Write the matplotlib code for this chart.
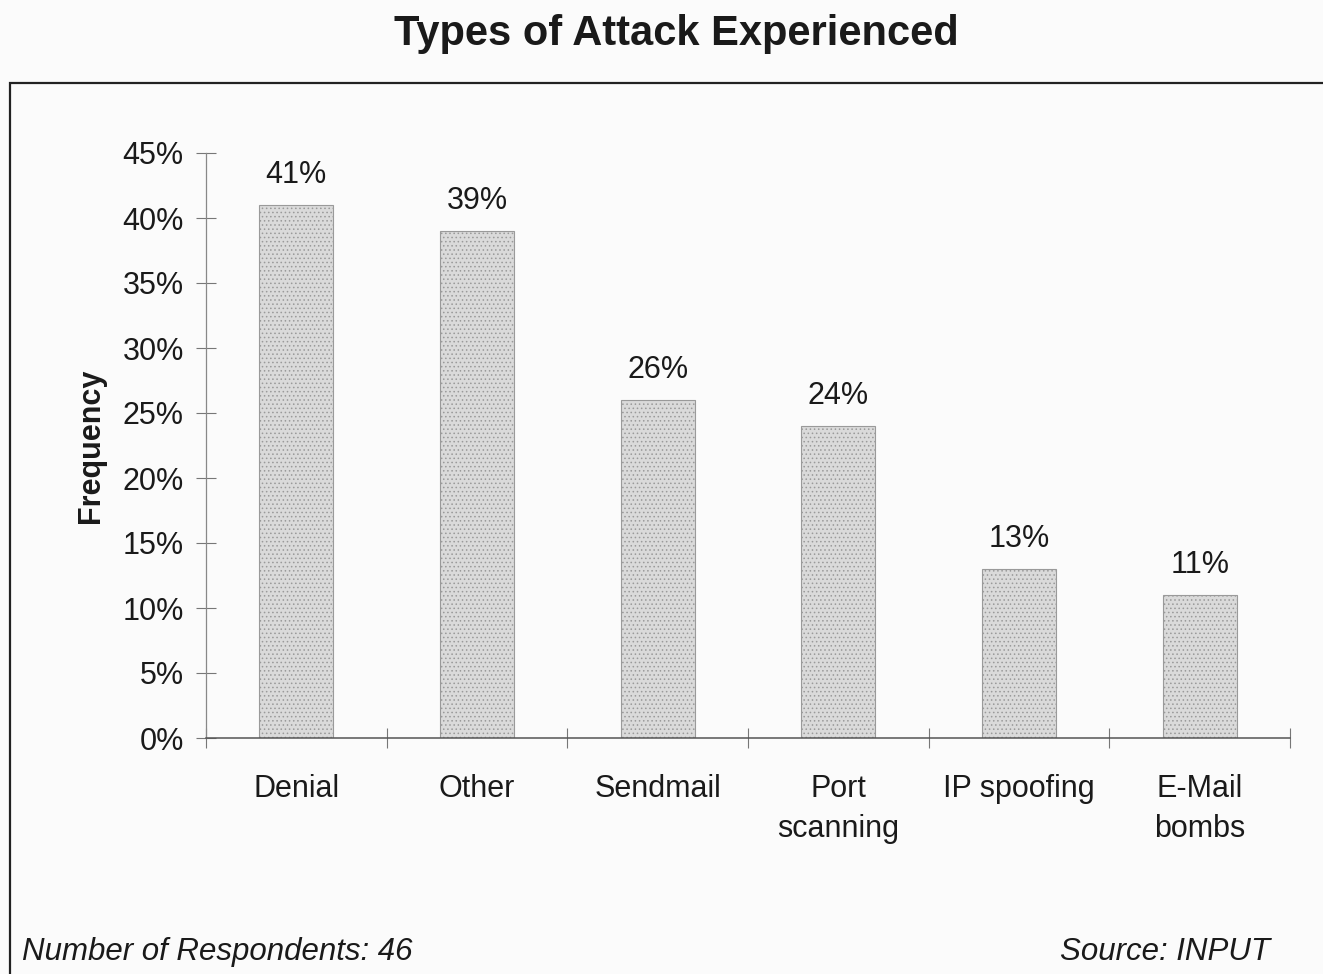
import numpy as np
import matplotlib
matplotlib.use('Agg')
import matplotlib.pyplot as plt
from matplotlib.patches import Rectangle

plt.rcParams['font.family'] = ['Liberation Sans', 'DejaVu Sans']
plt.rcParams['hatch.color'] = '#a8a8a8'
plt.rcParams['hatch.linewidth'] = 0.6

categories = ["Denial", "Other", "Sendmail", "Port\nscanning", "IP spoofing", "E-Mail\nbombs"]
frequency = [41, 39, 26, 24, 13, 11]
yticks = [0, 5, 10, 15, 20, 25, 30, 35, 40, 45]

fig = plt.figure(figsize=(13.23, 9.74), dpi=100)
fig.patch.set_facecolor('#fbfbfb')

# outer frame (runs off the right and bottom edges)
frame = Rectangle((10 / 1323, -0.05), 1.2, 1 - 83 / 974 + 0.05,
                  transform=fig.transFigure, fill=False,
                  edgecolor='#222222', linewidth=1.6)
fig.patches.append(frame)

fig.text(0.511, 1 - 34 / 974, "Types of Attack Experienced", ha='center', va='center',
         fontsize=30, fontweight='bold', color='#1a1a1a')

ax = fig.add_axes([206 / 1323, 1 - 738 / 974, (1290 - 206) / 1323, (738 - 153) / 974])
ax.set_facecolor('none')

x = np.arange(len(categories))
bars = ax.bar(x, frequency, width=0.41, color='#dadada', edgecolor='#9a9a9a',
              linewidth=0.8, hatch='....')
for b, v in zip(bars, frequency):
    ax.annotate(f"{v}%", (b.get_x() + b.get_width() / 2, v), xytext=(0, 11),
                textcoords='offset points', ha='center', va='bottom',
                fontsize=22, color='#1a1a1a')

ax.set_xlim(-0.5, len(categories) - 0.5)
ax.set_ylim(0, 45)
ax.set_yticks(yticks)
ax.set_yticklabels([f"{t}%" for t in yticks], fontsize=22, color='#1a1a1a')
ax.set_xticks(x)
ax.set_xticklabels(categories, fontsize=22, color='#1a1a1a', linespacing=1.42)
ax.set_xticks(np.arange(-0.5, len(categories)), minor=True)
ax.tick_params(axis='x', which='major', length=0, pad=26)
ax.tick_params(axis='x', which='minor', length=14, direction='inout', color='#777777', width=0.8)
ax.tick_params(axis='y', length=14, direction='inout', color='#777777', width=0.8, pad=9)

for side in ['top', 'right']:
    ax.spines[side].set_visible(False)
ax.spines['left'].set_color('#888888')
ax.spines['left'].set_linewidth(0.9)
ax.spines['bottom'].set_color('#555555')
ax.spines['bottom'].set_linewidth(1.1)

ax.set_ylabel("Frequency", fontsize=22, fontweight='bold', color='#1a1a1a', labelpad=12)

fig.text(22 / 1323, 1 - 952 / 974, "Number of Respondents: 46", ha='left', va='center',
         fontsize=22.5, style='italic', color='#1a1a1a')
fig.text(1270 / 1323, 1 - 952 / 974, "Source: INPUT", ha='right', va='center',
         fontsize=22.5, style='italic', color='#1a1a1a')

fig.savefig("out.png", dpi=100, facecolor=fig.get_facecolor())
